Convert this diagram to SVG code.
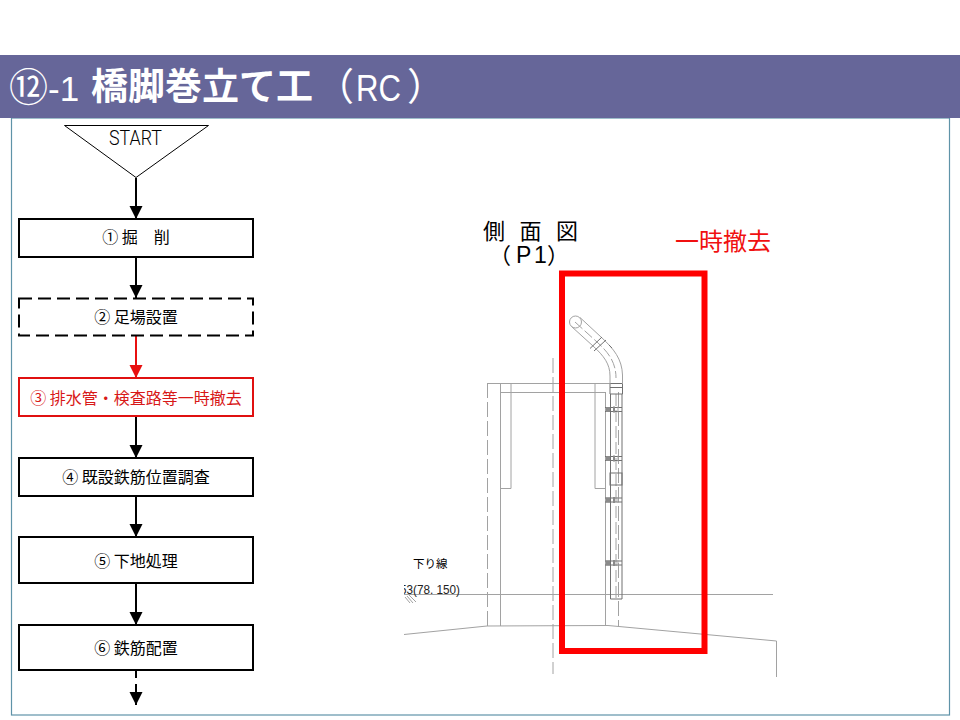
<svg xmlns="http://www.w3.org/2000/svg" width="960" height="720" viewBox="0 0 960 720">
<style>
.cjk{font-family:"Noto Sans CJK JP","Liberation Sans",sans-serif}
.lat{font-family:"Liberation Sans","Noto Sans CJK JP",sans-serif}
.box{fill:#fff;stroke:#000;stroke-width:2}
.lbl{font-size:16px;text-anchor:middle;fill:#000;font-family:"Noto Sans CJK JP",sans-serif;font-weight:400}
.ttl{fill:#fff;font-size:36px}
.dw{fill:none;stroke:#a2a2a2;stroke-width:1}
.dk{fill:none;stroke:#707070;stroke-width:1}
.dash{stroke-dasharray:15 4}
.con{fill:none;stroke:#000;stroke-width:2}
</style>
<defs>
<marker id="ah" markerUnits="userSpaceOnUse" markerWidth="14" markerHeight="14" refX="13" refY="6.500" orient="auto"><path d="M0 0L13 6.500L0 13Z" fill="#000"/></marker>
<marker id="ahr" markerUnits="userSpaceOnUse" markerWidth="14" markerHeight="14" refX="13" refY="6.500" orient="auto"><path d="M0 0L13 6.500L0 13Z" fill="#e81010"/></marker>
<clipPath id="clipL"><rect x="404" y="575" width="80" height="25"/></clipPath>
<g id="clamp"><path class="dk" d="M-9 -2H8M-9 2H8"/><path d="M-8 -2.500h4v5h-4zM-1 -3h2v6h-2z" fill="#8a8a8a"/><path class="dw" d="M4 -3v6"/></g>
</defs>
<rect width="960" height="720" fill="#fff"/>
<rect id="frame" x="11.500" y="118" width="938" height="597" fill="none" stroke="#5f93a8" stroke-width="1.200"/>
<g id="header">
<rect x="0" y="55" width="960" height="63" fill="#666699"/>
<text class="ttl cjk" x="9" y="101" style="font-size:39px">⑫</text>
<text class="ttl lat" x="48" y="101" style="font-size:35px">-1</text>
<text class="ttl cjk" x="91" y="100" font-weight="700" style="font-size:37px">橋脚巻立て工</text>
<text class="ttl cjk" x="316" y="100" style="font-size:38px">（</text>
<text class="ttl lat" x="356" y="101" style="font-size:37px" textLength="45" lengthAdjust="spacingAndGlyphs">RC</text>
<text class="ttl cjk" x="407" y="100" style="font-size:38px">）</text>
</g>
<g id="connectors">
<path class="con" d="M136 178V219" marker-end="url(#ah)"/>
<path class="con" d="M136 257V298" marker-end="url(#ah)"/>
<path d="M136 336V378" fill="none" stroke="#e81010" stroke-width="2" marker-end="url(#ahr)"/>
<path class="con" d="M136 416V458" marker-end="url(#ah)"/>
<path class="con" d="M136 496V537" marker-end="url(#ah)"/>
<path class="con" d="M136 583V625" marker-end="url(#ah)"/>
<path class="con" d="M136 670V678M136 684V705" marker-end="url(#ah)"/>
</g>
<g id="start"><path d="M64.500 125.500H208.500L136 177.500Z" fill="#fff" stroke="#000" stroke-width="1"/><text x="109" y="145" font-family="Roboto,Liberation Sans,sans-serif" font-weight="300" font-size="21" textLength="53" lengthAdjust="spacingAndGlyphs">START</text></g>
<g id="step1"><rect class="box" x="19" y="219" width="234" height="38"/><text class="lbl" x="136" y="243">① 掘　削</text></g>
<g id="step2"><rect x="19" y="298.500" width="234" height="37" fill="#fff" stroke="#000" stroke-width="2" stroke-dasharray="13 6"/><text class="lbl" x="136" y="323">② 足場設置</text></g>
<g id="step3"><rect x="19" y="378" width="234" height="38" fill="#fff" stroke="#e01010" stroke-width="2"/><text class="lbl" x="136" y="404" style="fill:#d81818">③ 排水管・検査路等一時撤去</text></g>
<g id="step4"><rect class="box" x="19" y="458" width="234" height="38"/><text class="lbl" x="136" y="483">④ 既設鉄筋位置調査</text></g>
<g id="step5"><rect class="box" x="19" y="537" width="234" height="46"/><text class="lbl" x="136" y="567">⑤ 下地処理</text></g>
<g id="step6"><rect class="box" x="19" y="625" width="234" height="45"/><text class="lbl" x="136" y="654">⑥ 鉄筋配置</text></g>
<g id="drawing">
<path class="dw" d="M404 634.500L487 626L608 625.500L776.500 641V677"/>
<path class="dw" d="M404 594.500H773"/>
<path class="dw dash" d="M487.500 383V626"/>
<path class="dw" d="M500.500 383V626"/>
<path class="dw dash" d="M553 358V674"/>
<path class="dw" d="M487 383.500H610M500 392.500H606"/>
<path class="dw" d="M500.500 488.500H511V383.500"/>
<path class="dw" d="M595 383.500V488.500H605.500"/>
<path class="dw" d="M605.500 392V626"/>
<path class="dw dash" d="M618.500 392V626"/>
<path class="dk" d="M610.500 394V599H622V394"/>
<path class="dw" d="M616 394V599" stroke-dasharray="12 4"/>
<path class="dk" d="M610 383.500H622.500V394H610ZM610 387.500H622.500"/>
<circle class="dw" cx="575.500" cy="322" r="6"/>
<path class="dw" d="M580 317.500L601 337C614 349 622 359 622.500 375V384"/>
<path class="dw" d="M571.500 326.500L593 346C604 356 610 364 610 376V384"/>
<path class="dw" d="M575 322L597 342C608 352 616 362 616 378" stroke-dasharray="10 3"/>
<path class="dk" d="M590 348.500L602 337M594 351L606 340M609 345l3 3"/>
<use href="#clamp" x="614" y="409.500"/>
<use href="#clamp" x="614" y="458.500"/>
<use href="#clamp" x="614" y="500"/>
<use href="#clamp" x="614" y="563"/>
<rect class="dk" x="610" y="473" width="12" height="12"/>
<path class="dw" d="M405 597l5 6M407 596l6 7M409 595l7 7" stroke-width="0.700"/>
<rect x="562" y="273.500" width="142.500" height="377.500" fill="none" stroke="#ff0000" stroke-width="6"/>
<text class="cjk" x="483" y="239" font-size="22" letter-spacing="14.500">側面図</text>
<text class="cjk" x="489" y="263" font-size="22">（<tspan class="lat" x="516" font-size="23">P</tspan><tspan class="lat" x="534" font-size="23">1</tspan><tspan x="547">）</tspan></text>
<text class="cjk" x="675" y="250" font-size="24" fill="#f01010">一時撤去</text>
<text class="cjk" x="413" y="568" font-size="11.500">下り線</text>
<text class="lat" x="400" y="594" font-size="12" clip-path="url(#clipL)" fill="#222" textLength="60" lengthAdjust="spacingAndGlyphs">53(78. 150)</text>
</g>
</svg>
